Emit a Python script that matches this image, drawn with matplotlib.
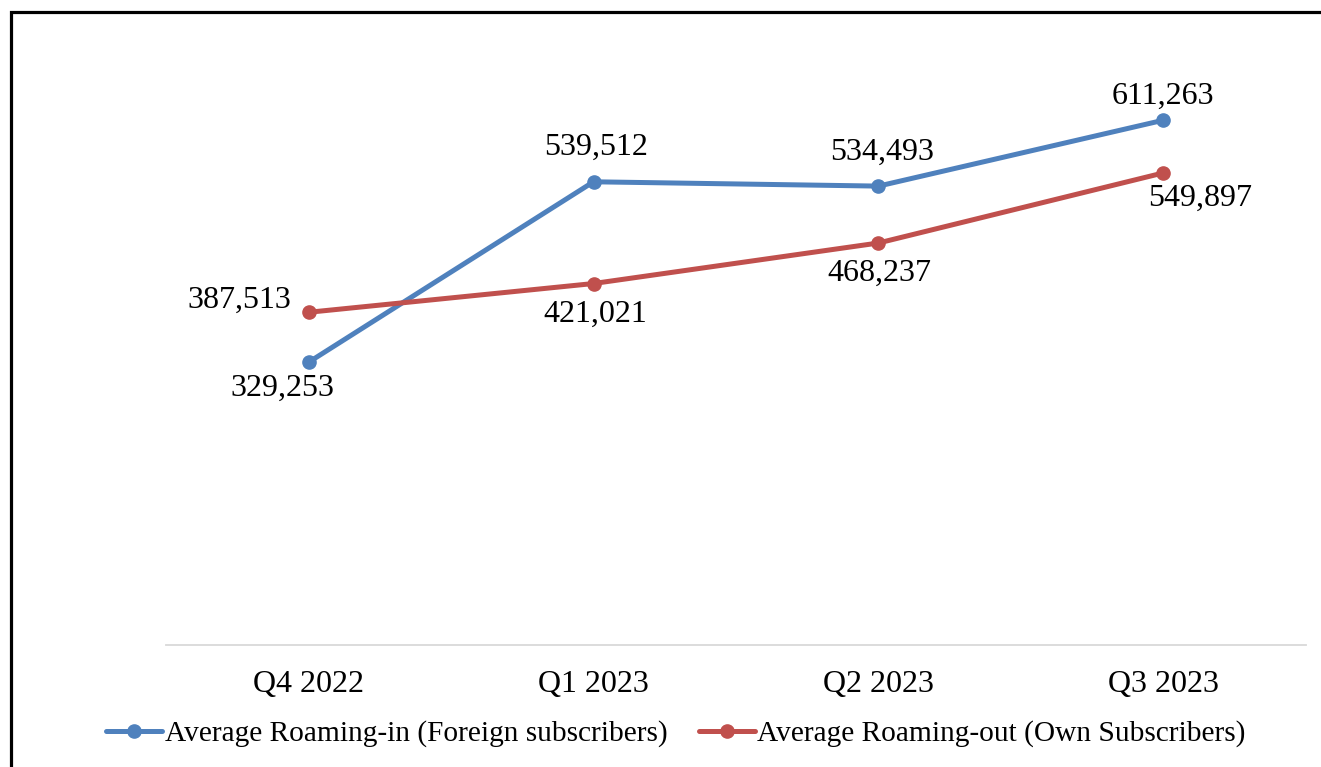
import matplotlib
matplotlib.use("Agg")
import matplotlib.pyplot as plt
from matplotlib.lines import Line2D

# data
quarters = ["Q4 2022", "Q1 2023", "Q2 2023", "Q3 2023"]
roaming_in = [329253, 539512, 534493, 611263]
roaming_out = [387513, 421021, 468237, 549897]
label_in = "Average Roaming-in (Foreign subscribers)"
label_out = "Average Roaming-out (Own Subscribers)"

# label offsets in pixels (dx, dy)
off_in = [(-26, -26), (3, 34), (4, 34), (-1, 24)]
off_out = [(-69, 12), (2, -31), (1, -30), (37, -25)]

plt.rcParams['font.family'] = ['Liberation Serif', 'DejaVu Serif']
FS = 23
FS_LEG = 21.2
W, H = 1321, 767

fig = plt.figure(figsize=(W / 100, H / 100), dpi=100)
ax = fig.add_axes([166 / W, 1 - 645 / H, (1306 - 166) / W, (645 - 44) / H])

x = list(range(len(quarters)))
blue = "#4F81BD"
red = "#C0504D"
ax.plot(x, roaming_in, color=blue, lw=3.6, marker="o", ms=9.5, label=label_in,
        solid_capstyle="round")
ax.plot(x, roaming_out, color=red, lw=3.6, marker="o", ms=9.5, label=label_out,
        solid_capstyle="round")

for xi, v, (dx, dy) in zip(x, roaming_in, off_in):
    ax.annotate(f"{v:,}", (xi, v), xytext=(dx, dy), textcoords="offset pixels",
                ha="center", va="center", fontsize=FS)
for xi, v, (dx, dy) in zip(x, roaming_out, off_out):
    ax.annotate(f"{v:,}", (xi, v), xytext=(dx, dy), textcoords="offset pixels",
                ha="center", va="center", fontsize=FS)

ax.set_xlim(-0.5, len(quarters) - 0.5)
ax.set_ylim(0, 700000)
ax.set_xticks(x)
ax.set_xticklabels(quarters, fontsize=FS)
ax.set_yticks([])
ax.tick_params(axis="x", length=0, pad=18)
for s in ["top", "left", "right"]:
    ax.spines[s].set_visible(False)
ax.spines["bottom"].set_color("#D9D9D9")
ax.spines["bottom"].set_linewidth(1.3)

fig.legend(loc="center", bbox_to_anchor=(676 / W, 1 - 734 / H), ncol=2,
           frameon=False, fontsize=FS_LEG, handlelength=1.9, handletextpad=0.1,
           columnspacing=1.05, borderaxespad=0)

# outer frame (left and top edges)
fig.add_artist(Line2D([11 / W, 11 / W, 1.0], [0.0, 1 - 12 / H, 1 - 12 / H],
                      transform=fig.transFigure, color="black", lw=2.3,
                      solid_joinstyle="miter"))

fig.savefig("out.png", dpi=100)
